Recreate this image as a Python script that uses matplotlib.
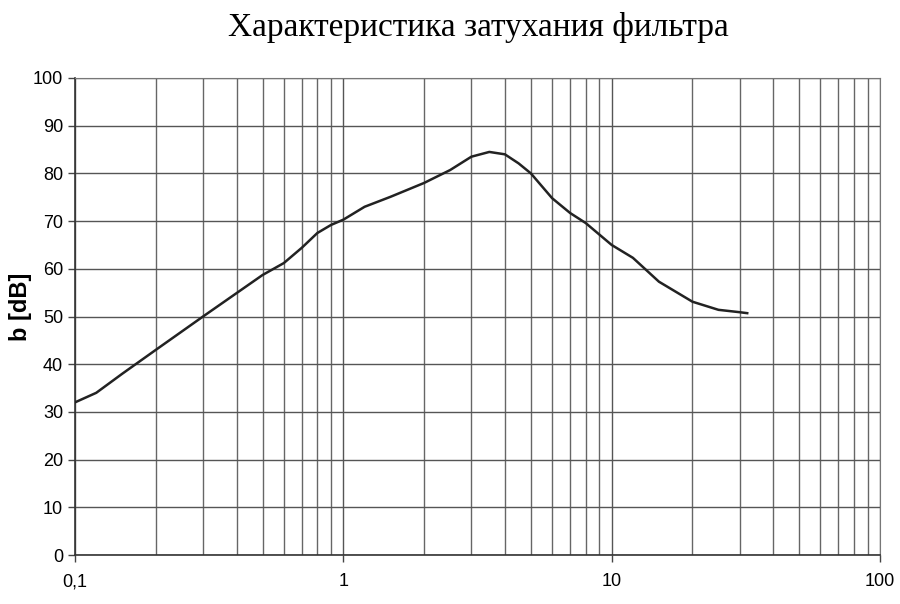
import numpy as np
import matplotlib
matplotlib.use("Agg")
import matplotlib.pyplot as plt
from matplotlib.ticker import FixedLocator, FixedFormatter, LogLocator, NullFormatter

# frequency and attenuation
freq = [0.1, 0.12, 0.15, 0.2, 0.3, 0.4, 0.5, 0.6, 0.7, 0.8, 0.9, 1.0, 1.2, 1.5,
        2.0, 2.5, 3.0, 3.5, 4.0, 4.5, 5.0, 6.0, 7.0, 8.0, 10.0, 12.0, 15.0,
        20.0, 25.0, 30.0, 32.0]
atten = [32.0, 34.0, 38.0, 43.0, 50.0, 54.9, 58.7, 61.2, 64.4, 67.5, 69.2, 70.3,
         73.0, 75.1, 78.0, 80.7, 83.5, 84.5, 84.0, 82.1, 80.0, 74.8, 71.7, 69.6,
         65.0, 62.3, 57.3, 53.1, 51.4, 50.9, 50.7]
xticks = [0.1, 1, 10, 100]
xlabels = ["0,1", "1", "10", "100"]
yticks = list(range(0, 101, 10))

plt.rcParams["font.family"] = ["Liberation Sans", "DejaVu Sans"]

fig = plt.figure(figsize=(9, 6.04), dpi=100)
ax = fig.add_axes([75 / 900, 1 - 555 / 604, 805 / 900, 477 / 604])

ax.plot(freq, atten, color="#222222", linewidth=1.8, zorder=3)

ax.set_xscale("log")
ax.set_xlim(0.1, 100)
ax.set_ylim(0, 100)
ax.xaxis.set_major_locator(FixedLocator(xticks))
ax.xaxis.set_major_formatter(FixedFormatter(xlabels))
ax.xaxis.set_minor_locator(LogLocator(base=10, subs=np.arange(2, 10)))
ax.xaxis.set_minor_formatter(NullFormatter())
ax.set_yticks(yticks)

ax.grid(True, which="major", color="#555555", linewidth=1.0)
ax.grid(True, which="minor", axis="x", color="#666666", linewidth=1.0)
ax.tick_params(axis="both", which="major", labelsize=13, length=5,
               color="#444444", width=1.0, direction="out")
ax.tick_params(axis="x", which="minor", length=0)
ax.tick_params(axis="x", pad=8)

for side in ["top", "right"]:
    ax.spines[side].set_color("#777777")
for side in ["left", "bottom"]:
    ax.spines[side].set_color("#333333")
    ax.spines[side].set_linewidth(1.2)

ax.set_ylabel("b [dB]", fontsize=17, fontweight="bold")
ax.yaxis.set_label_coords(-0.053, 0.52)
fig.text(0.532, 0.98, "Характеристика затухания фильтра", fontsize=24,
         family=["Liberation Serif", "DejaVu Serif"], ha="center", va="top")

fig.savefig("out.png", dpi=100, facecolor="white")
